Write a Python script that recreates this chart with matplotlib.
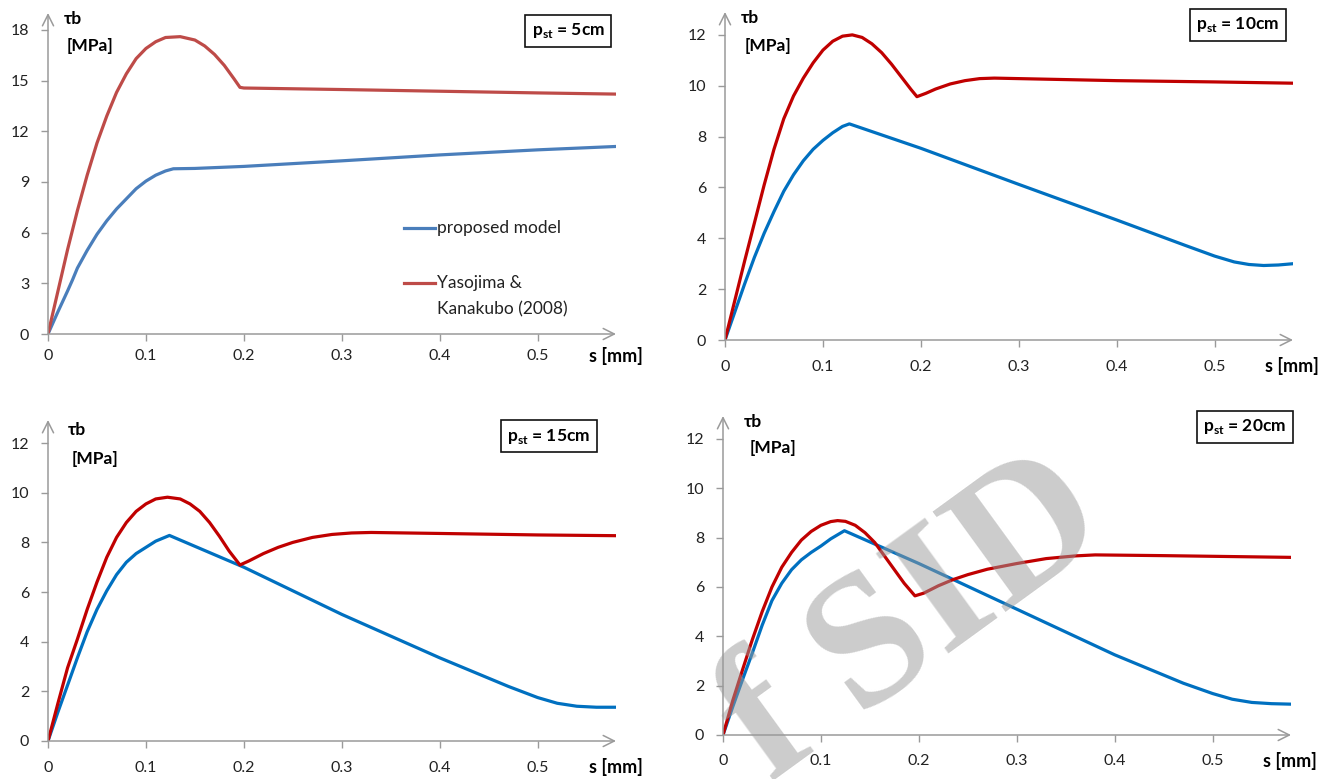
import matplotlib.pyplot as plt
from matplotlib.lines import Line2D

plt.rcParams['font.family'] = ['Lato', 'DejaVu Sans']
plt.rcParams['mathtext.fontset'] = 'custom'
plt.rcParams['mathtext.rm'] = 'Lato'
plt.rcParams['mathtext.bf'] = 'Lato:bold'

W, H = 1323, 779

# ---- data: s [mm], tau_b [MPa] ----
# p_st = 5cm
s5_prop = [0, 0.01, 0.02, 0.025, 0.03, 0.04, 0.05, 0.06, 0.07, 0.08, 0.09, 0.1, 0.11, 0.12, 0.128,
           0.15, 0.2, 0.3, 0.4, 0.5, 0.58]
t5_prop = [0, 1.3, 2.55, 3.2, 3.9, 4.95, 5.9, 6.7, 7.4, 8.0, 8.6, 9.05, 9.4, 9.65, 9.78,
           9.8, 9.92, 10.25, 10.6, 10.9, 11.1]
s5_yk = [0, 0.01, 0.02, 0.03, 0.04, 0.05, 0.06, 0.07, 0.08, 0.09, 0.1, 0.11, 0.12, 0.135,
         0.15, 0.16, 0.17, 0.18, 0.19, 0.196, 0.2, 0.3, 0.4, 0.5, 0.58]
t5_yk = [0, 2.5, 5.0, 7.3, 9.4, 11.3, 12.9, 14.3, 15.4, 16.3, 16.9, 17.3, 17.55, 17.6,
         17.4, 17.05, 16.55, 15.9, 15.1, 14.6, 14.56, 14.47, 14.37, 14.27, 14.2]

# p_st = 10cm
s10_prop = [0, 0.01, 0.02, 0.03, 0.04, 0.05, 0.06, 0.07, 0.08, 0.09, 0.1, 0.11, 0.12, 0.127,
            0.2, 0.3, 0.4, 0.47, 0.5, 0.52, 0.535, 0.55, 0.565, 0.58]
t10_prop = [0, 1.1, 2.2, 3.25, 4.2, 5.05, 5.85, 6.5, 7.05, 7.5, 7.85, 8.15, 8.4, 8.5,
            7.54, 6.12, 4.72, 3.72, 3.3, 3.07, 2.97, 2.93, 2.95, 3.0]
s10_yk = [0, 0.01, 0.02, 0.03, 0.04, 0.05, 0.06, 0.07, 0.08, 0.09, 0.1, 0.11, 0.12, 0.13,
          0.14, 0.15, 0.16, 0.17, 0.18, 0.19, 0.196, 0.205, 0.215, 0.23, 0.245, 0.26, 0.275,
          0.3, 0.4, 0.5, 0.58]
t10_yk = [0, 1.55, 3.1, 4.6, 6.1, 7.5, 8.7, 9.6, 10.3, 10.9, 11.4, 11.75, 11.95, 12.0,
          11.9, 11.65, 11.3, 10.85, 10.35, 9.85, 9.57, 9.7, 9.87, 10.07, 10.2, 10.28, 10.3,
          10.28, 10.2, 10.15, 10.1]

# p_st = 15cm
s15_prop = [0, 0.01, 0.02, 0.03, 0.04, 0.05, 0.06, 0.07, 0.08, 0.09, 0.1, 0.11, 0.124,
            0.2, 0.3, 0.4, 0.47, 0.5, 0.52, 0.54, 0.56, 0.58]
t15_prop = [0, 1.15, 2.25, 3.35, 4.4, 5.3, 6.05, 6.7, 7.2, 7.55, 7.8, 8.05, 8.28,
            7.0, 5.1, 3.35, 2.2, 1.75, 1.52, 1.4, 1.36, 1.36]
s15_yk = [0, 0.01, 0.02, 0.03, 0.04, 0.05, 0.06, 0.07, 0.08, 0.09, 0.1, 0.11, 0.122,
          0.135, 0.145, 0.155, 0.165, 0.175, 0.185, 0.196, 0.205, 0.22, 0.235, 0.25, 0.27,
          0.29, 0.31, 0.33, 0.4, 0.5, 0.58]
t15_yk = [0, 1.5, 2.95, 4.1, 5.3, 6.4, 7.4, 8.2, 8.8, 9.25, 9.55, 9.75, 9.82,
          9.75, 9.55, 9.25, 8.8, 8.25, 7.65, 7.09, 7.25, 7.55, 7.8, 8.0, 8.2,
          8.32, 8.38, 8.4, 8.36, 8.3, 8.27]

# p_st = 20cm
s20_prop = [0, 0.01, 0.02, 0.03, 0.04, 0.05, 0.06, 0.07, 0.08, 0.09, 0.1, 0.11, 0.124,
            0.2, 0.3, 0.4, 0.47, 0.5, 0.52, 0.54, 0.56, 0.58]
t20_prop = [0, 1.15, 2.25, 3.33, 4.45, 5.45, 6.15, 6.7, 7.1, 7.4, 7.66, 7.95, 8.28,
            6.95, 5.1, 3.25, 2.1, 1.68, 1.45, 1.32, 1.27, 1.25]
s20_yk = [0, 0.01, 0.02, 0.03, 0.04, 0.05, 0.06, 0.07, 0.08, 0.09, 0.1, 0.11, 0.117,
          0.125, 0.135, 0.145, 0.155, 0.165, 0.175, 0.185, 0.196, 0.205, 0.22, 0.235, 0.25,
          0.27, 0.3, 0.33, 0.36, 0.38, 0.45, 0.58]
t20_yk = [0, 1.4, 2.65, 3.87, 5.0, 6.0, 6.8, 7.4, 7.9, 8.25, 8.5, 8.65, 8.69,
          8.66, 8.5, 8.2, 7.8, 7.25, 6.7, 6.15, 5.64, 5.75, 6.05, 6.3, 6.5,
          6.72, 6.95, 7.15, 7.26, 7.3, 7.27, 7.2]

x_ticks = [0, 0.1, 0.2, 0.3, 0.4, 0.5]
x_ticklabels = ['0', '0.1', '0.2', '0.3', '0.4', '0.5']

fig = plt.figure(figsize=(W / 100, H / 100), dpi=100)


def fx(px):
    return px / W


def fy(py):
    return 1 - py / H


def panel(x0, x1, y0, y1, ymax, yticks, xpad, box_txt, box_xy, tau_xy, mpa_xy, smm_xy):
    ax = fig.add_axes([fx(x0), fy(y0), fx(x1) - fx(x0), fy(y1) - fy(y0)])
    ax.set_xlim(0, 0.58)
    ax.set_ylim(0, ymax)
    for sp in ax.spines.values():
        sp.set_visible(False)
    gray = '#9a9a9a'
    ax.annotate('', xy=(1, 0), xytext=(0, 0), xycoords='axes fraction',
                arrowprops=dict(arrowstyle='->', color=gray, lw=1.1, mutation_scale=20,
                                shrinkA=0, shrinkB=0), annotation_clip=False)
    ax.annotate('', xy=(0, 1), xytext=(0, 0), xycoords='axes fraction',
                arrowprops=dict(arrowstyle='->', color=gray, lw=1.1, mutation_scale=20,
                                shrinkA=0, shrinkB=0), annotation_clip=False)
    ax.set_xticks(x_ticks)
    ax.set_xticklabels(x_ticklabels)
    ax.set_yticks(yticks)
    ax.tick_params(axis='both', colors=gray, length=5, width=1.0, labelcolor='#222222',
                   labelsize=11.5)
    ax.tick_params(axis='x', pad=xpad)
    ax.tick_params(axis='y', pad=8.5)
    fig.text(fx(box_xy[0]), fy(box_xy[1]), box_txt, fontsize=12.5, fontweight='bold',
             ha='center', va='center',
             bbox=dict(boxstyle='square,pad=0.35', fc='white', ec='#111111', lw=1.2))
    fig.text(fx(tau_xy[0]), fy(tau_xy[1]), 'τb', fontsize=12.5, fontweight='bold',
             ha='left', va='center')
    fig.text(fx(mpa_xy[0]), fy(mpa_xy[1]), '[MPa]', fontsize=12.5, fontweight='bold',
             ha='left', va='center')
    fig.text(fx(smm_xy[0]), fy(smm_xy[1]), 's [mm]', fontsize=13, fontweight='bold',
             ha='right', va='center')
    return ax


lw = 2.3

ax1 = panel(48, 616, 334, 13, 19.0, [0, 3, 6, 9, 12, 15, 18], 6,
            r'$\mathbf{p}_{\mathbf{st}}$ = 5cm', (568, 31), (64, 19), (67, 46), (643, 356))
ax1.plot(s5_prop, t5_prop, color='#4a7ebb', lw=lw, solid_joinstyle='round')
ax1.plot(s5_yk, t5_yk, color='#be4b48', lw=lw, solid_joinstyle='round')

ax2 = panel(725, 1293, 340, 12, 12.9, [0, 2, 4, 6, 8, 10, 12], 9.4,
            r'$\mathbf{p}_{\mathbf{st}}$ = 10cm', (1238, 25), (741, 18), (745, 46), (1319, 366))
ax2.plot(s10_prop, t10_prop, color='#0070c0', lw=lw, solid_joinstyle='round')
ax2.plot(s10_yk, t10_yk, color='#c00000', lw=lw, solid_joinstyle='round')

ax3 = panel(48, 616, 741, 420, 12.93, [0, 2, 4, 6, 8, 10, 12], 9.5,
            r'$\mathbf{p}_{\mathbf{st}}$ = 15cm', (549, 436), (68, 430), (72, 459), (643, 767))
ax3.plot(s15_prop, t15_prop, color='#0070c0', lw=lw, solid_joinstyle='round')
ax3.plot(s15_yk, t15_yk, color='#c00000', lw=lw, solid_joinstyle='round')

ax4 = panel(723, 1291, 735, 416, 12.93, [0, 2, 4, 6, 8, 10, 12], 8.6,
            r'$\mathbf{p}_{\mathbf{st}}$ = 20cm', (1245, 427), (744, 422), (750, 448), (1317, 761))
ax4.plot(s20_prop, t20_prop, color='#0070c0', lw=lw, solid_joinstyle='round')
ax4.plot(s20_yk, t20_yk, color='#c00000', lw=lw, solid_joinstyle='round')

# legend of the first panel
fig.add_artist(Line2D([fx(404), fx(435)], [fy(228), fy(228)], color='#4a7ebb', lw=lw))
fig.text(fx(437), fy(228), 'proposed model', fontsize=12.5, ha='left', va='center', color='#222222')
fig.add_artist(Line2D([fx(404), fx(435)], [fy(283), fy(283)], color='#be4b48', lw=lw))
fig.text(fx(437), fy(283), 'Yasojima &', fontsize=12.5, ha='left', va='center', color='#222222')
fig.text(fx(437), fy(309), 'Kanakubo (2008)', fontsize=12.5, ha='left', va='center', color='#222222')

# watermark
fig.text(fx(915), fy(622), 'f SID', fontsize=136, family='Liberation Serif', fontweight='bold',
         color='#999999', alpha=0.5, rotation=36, rotation_mode='anchor',
         ha='center', va='center', zorder=10)

fig.savefig('out.png', dpi=100)
